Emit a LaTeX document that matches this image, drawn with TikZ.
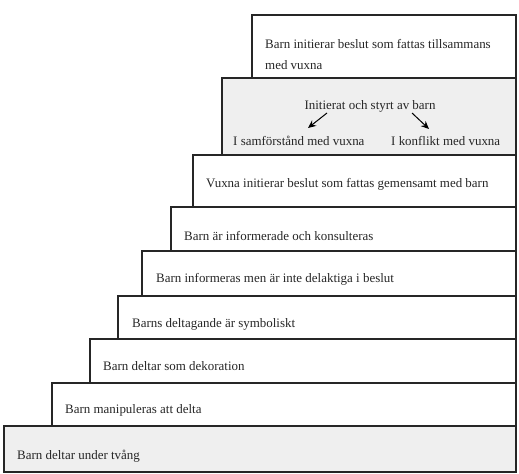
\documentclass[tikz,border=0pt]{standalone}
\usepackage{fontspec}
\setmainfont{Liberation Serif}
\usetikzlibrary{arrows.meta}
\definecolor{boxgray}{HTML}{EFEFEF}
\begin{document}
\begin{tikzpicture}[x=1bp,y=-1bp,
  stepbox/.style={draw=black!85,line width=1.3bp},
  lbl/.style={anchor=west,inner sep=0pt,font=\fontsize{13}{15}\selectfont,text=black!85},
  arr/.style={-{Stealth[length=8bp,width=7bp]},line width=1bp}]
\useasboundingbox (0,0) rectangle (519,474);
% boxes from bottom to top
\draw[stepbox,fill=boxgray] (4,426) rectangle (516,472);
\draw[stepbox] (52,383) rectangle (516,426);
\draw[stepbox] (90,339) rectangle (516,383);
\draw[stepbox] (118,296) rectangle (516,339);
\draw[stepbox] (142,251) rectangle (516,296);
\draw[stepbox] (171,207) rectangle (516,251);
\draw[stepbox] (193,155) rectangle (516,207);
\draw[stepbox] (252,15) rectangle (516,78);
\draw[stepbox,fill=boxgray] (222,78) rectangle (516,155);
% labels
\node[lbl] (t1) at (17,456) {Barn deltar under tvång};
\node[lbl] (t2) at (65,410) {Barn manipuleras att delta};
\node[lbl] (t3) at (103,366) {Barn deltar som dekoration};
\node[lbl] (t4) at (132,324) {Barns deltagande är symboliskt};
\node[lbl] (t5) at (156,279) {Barn informeras men är inte delaktiga i beslut};
\node[lbl] (t6) at (184,236) {Barn är informerade och konsulteras};
\node[lbl] (t7) at (206,184) {Vuxna initierar beslut som fattas gemensamt med barn};
\node[lbl] (t8a) at (265,44) {Barn initierar beslut som fattas tillsammans};
\node[lbl] (t8b) at (265,65) {med vuxna};
\node[lbl,anchor=center] (init) at (370,106) {Initierat och styrt av barn};
\node[lbl] (samf) at (233,141) {I samförstånd med vuxna};
\node[lbl] (konf) at (391,141) {I konflikt med vuxna};
\coordinate (a1s) at (327,113);
\coordinate (a1e) at (308,128);
\coordinate (a2s) at (412,113);
\coordinate (a2e) at (429,129);
\draw[arr] (a1s) -- (a1e);
\draw[arr] (a2s) -- (a2e);
\end{tikzpicture}
\end{document}
